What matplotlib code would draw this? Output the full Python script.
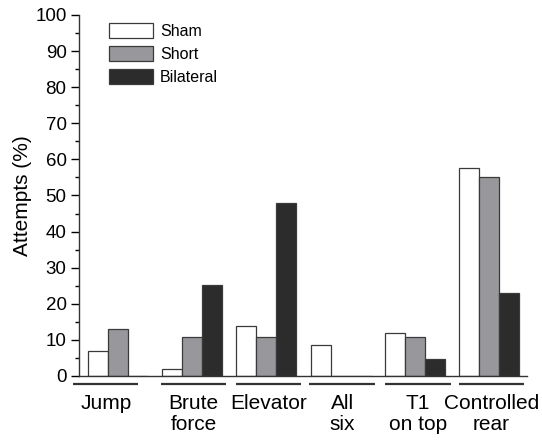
import numpy as np
import matplotlib.pyplot as plt
from matplotlib.ticker import MultipleLocator
from matplotlib.transforms import blended_transform_factory

plt.rcParams['font.family'] = ['Liberation Sans', 'DejaVu Sans']

# Data
categories = ['Jump', 'Brute\nforce', 'Elevator', 'All\nsix', 'T1\non top', 'Controlled\nrear']
sham = [6.9, 1.8, 13.9, 8.7, 11.9, 57.7]
short = [13.0, 10.7, 10.7, 0.0, 10.7, 55.2]
bilateral = [0.0, 25.1, 47.8, 0.0, 4.7, 22.9]
series_names = ['Sham', 'Short', 'Bilateral']
series_colors = ['white', '#98989c', '#2c2c2c']

fig = plt.figure(figsize=(5.42, 4.40), dpi=100)
ax = fig.add_axes([0.1458, 0.1455, 0.8266, 0.8205])

x = np.arange(len(categories))
w = 0.269
for k, (vals, name, col) in enumerate(zip([sham, short, bilateral], series_names, series_colors)):
    ax.bar(x + (k - 1) * w, vals, width=w, color=col, edgecolor='#3a3a3a',
           linewidth=0.9, label=name)

ax.set_xlim(-0.52, 5.51)
ax.set_ylim(0, 100)
ax.yaxis.set_major_locator(MultipleLocator(10))
ax.yaxis.set_minor_locator(MultipleLocator(5))
ax.tick_params(axis='y', which='major', length=6, width=1, labelsize=13.5, pad=3)
ax.tick_params(axis='y', which='minor', length=3, width=1)
ax.set_xticks([])
for s in ['top', 'right']:
    ax.spines[s].set_visible(False)
for s in ['left', 'bottom']:
    ax.spines[s].set_linewidth(1)
    ax.spines[s].set_color('#333333')
ax.set_ylabel('Attempts (%)', fontsize=15, labelpad=2)

# group underlines and labels
trans = blended_transform_factory(ax.transData, ax.transAxes)
line_shift = [-0.16, 0.02, 0.03, 0.02, 0.04, 0.03]
for i, lab in enumerate(categories):
    c = x[i] + line_shift[i]
    ax.plot([c - 0.44, c + 0.44], [-0.022, -0.022], transform=trans,
            color='#333333', lw=1.6, clip_on=False, solid_capstyle='butt')
    ax.text(c, -0.05, lab, transform=trans, ha='center', va='top',
            fontsize=15, linespacing=1.15)

ax.legend(loc='upper left', bbox_to_anchor=(0.067, 0.978), frameon=False,
          fontsize=11.5, handlelength=2.75, handleheight=1.1, handletextpad=0.45,
          labelspacing=0.42, borderpad=0, borderaxespad=0)

fig.savefig('out.png', dpi=100)
